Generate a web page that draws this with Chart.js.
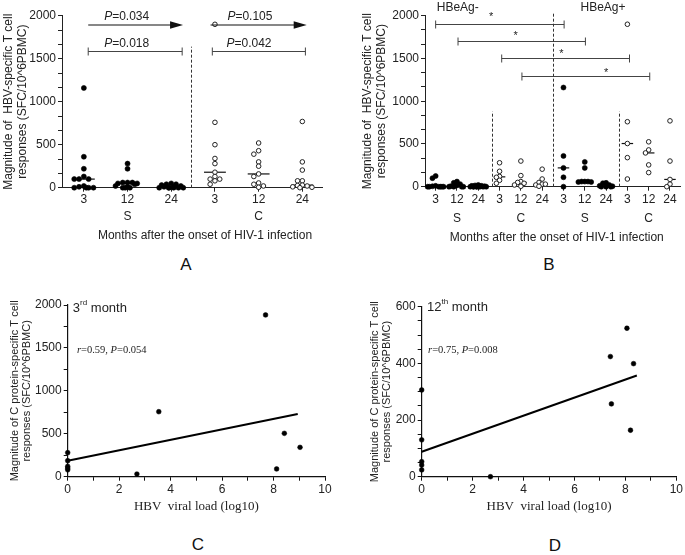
<!DOCTYPE html>
<html><head><meta charset="utf-8">
<script src="https://cdn.jsdelivr.net/npm/chart.js@4"></script>
<style>
body{margin:0;background:#fff;width:685px;height:555px;position:relative;overflow:hidden;font-family:"Liberation Sans",Arial,sans-serif}
canvas{position:absolute}
.lbl{position:absolute;font-size:17px;color:#111;transform:translate(-50%,-50%);line-height:1}
</style></head><body>
<canvas id="cA" width="340" height="250" style="left:0;top:0"></canvas>
<canvas id="cB" width="345" height="250" style="left:340px;top:0"></canvas>
<canvas id="cC" width="340" height="245" style="left:0;top:280px"></canvas>
<canvas id="cD" width="345" height="245" style="left:340px;top:280px"></canvas>
<div class="lbl" style="left:186px;top:264px">A</div>
<div class="lbl" style="left:549px;top:264px">B</div>
<div class="lbl" style="left:198px;top:544px">C</div>
<div class="lbl" style="left:555px;top:545px">D</div>
<script>
// ---------------- DATA ----------------
// Panel A
const A_CATS = ['3','12','24','3','12','24'];
const A_GROUPS = ['','S','','','C',''];
const A_S3  = [1160,360,220,130,100,100,100,20,10,0,0,0,0];
const A_S12 = [280,220,60,60,60,50,50,40,20,10,0,0,0];
const A_S24 = [50,40,40,30,20,10,10,0,0,0,0,0,0];
const A_C3  = [1900,760,500,340,280,180,130,100,100,80,40];
const A_C12 = [520,430,390,300,250,160,130,55,40,20,5];
const A_C24 = [770,300,205,80,80,30,25,20,10,5,0];
const A_YTICKS = [0,500,1000,1500,2000];
const A_PVALUES = ['0.034','0.018','0.105','0.042'];

// Panel B
const B_CATS = ['3','12','24','3','12','24','3','12','24','3','12','24'];
const B_GROUPS = ['','S','','','C','','','S','','','C',''];
const B_NEG_S3  = [125,100,10,5,0,0,0,0,0,0];
const B_NEG_S12 = [60,45,30,15,5,0,0,0,0];
const B_NEG_S24 = [20,15,10,10,5,5,0,0,0,0,0,0,0,0];
const B_NEG_C3  = [280,180,120,110,75,40];
const B_NEG_C12 = [300,130,60,50,40,20,5];
const B_NEG_C24 = [205,90,50,30,30,20,5];
const B_POS_S3  = [1160,360,220,110,0];
const B_POS_S12 = [290,220,60,60,60,55,55];
const B_POS_S24 = [45,40,20,10,5,0,0,0];
const B_POS_C3  = [1900,760,505,340,90];
const B_POS_C12 = [525,430,395,255,165];
const B_POS_C24 = [770,300,85,30,0];
const B_YTICKS = [0,500,1000,1500,2000];
const B_HEADERS = ['HBeAg-','HBeAg+'];

// Panel C (3rd month)
const C_X = [7.69,3.54,8.42,9.03,8.12,2.69,0,0,0,0,0];
const C_Y = [1884,757,505,342,90,31,280,186,120,100,80];
const C_FIT_X = [0,8.94];
const C_FIT_Y = [186,730];
const C_YTICKS = [0,500,1000,1500,2000];
const C_XTICKS = [0,2,4,6,8,10];

// Panel D (12th month)
const D_X = [8.06,7.41,8.32,7.45,8.2,2.7,0,0,0,0,0];
const D_Y = [524,424,399,257,164,0,306,130,53,41,24];
const D_FIT_X = [0,8.45];
const D_FIT_Y = [88,357];
const D_YTICKS = [0,200,400,600];
const D_XTICKS = [0,2,4,6,8,10];

// ---------------- HELPERS ----------------
const SANS = '"Liberation Sans", Arial, sans-serif';
const SERIF = '"Liberation Serif", "Times New Roman", serif';
const AX = '#222';

function median(a){const s=a.slice().sort((x,y)=>x-y);const n=s.length;return n%2?s[(n-1)/2]:(s[n/2-1]+s[n/2])/2;}
function swarm(values, center, dx, dy, maxOff){
  const placed=[]; const cands=[0];
  for(let i=1;i<14;i++){cands.push(-i*dx,i*dx);}
  const ok=cands.filter(o=>Math.abs(o)<=maxOff+1e-9);
  return values.slice().sort((a,b)=>b-a).map((v,n)=>{
    let off=null;
    for(const o of ok){
      if(!placed.some(p=>Math.abs(p.y-v)<dy && Math.abs(p.o-o)<dx*0.99)){off=o;break;}
    }
    if(off===null){off=ok[n%ok.length]+(n%2?0.5:-0.5)*dx;}
    placed.push({o:off,y:v});
    return {x:center+off,y:v};
  });
}
function minorTicks(major, sub){
  const t=[];
  for(let i=0;i<major.length-1;i++){
    for(let k=0;k<sub;k++){t.push({value:major[i]+(major[i+1]-major[i])*k/sub});}
  }
  t.push({value:major[major.length-1]});
  return t;
}
function isIn(v, arr){return arr.some(a=>Math.abs(a-v)<1e-6);}
function rich(ctx, parts, x, y, align){
  let w=0;
  parts.forEach(p=>{ctx.font=p.f;p.w=ctx.measureText(p.t).width;w+=p.w;});
  let cx = align==='center'? x-w/2 : x;
  ctx.textBaseline='middle'; ctx.textAlign='left';
  parts.forEach(p=>{ctx.font=p.f;ctx.fillText(p.t,cx,y+(p.dy||0));cx+=p.w;});
}
const baseOpts = {responsive:false, animation:false, devicePixelRatio:1, events:[],
  plugins:{legend:{display:false}, tooltip:{enabled:false}}};
const filledPt = {pointRadius:2.5, pointBackgroundColor:'#000', pointBorderColor:'#000', pointBorderWidth:0.6, showLine:false, clip:false};
const openPt = {pointRadius:2.3, pointBackgroundColor:'#fff', pointBorderColor:'#222', pointBorderWidth:1, showLine:false, clip:false};

function groupDatasets(series, filled, dx, dy, maxOff, mw){
  const ds=[];
  series.forEach((vals,i)=>{
    ds.push(Object.assign({data: swarm(vals,i,dx,dy,maxOff)}, filled[i]?filledPt:openPt));
  });
  series.forEach((vals,i)=>{
    const m=median(vals);
    ds.push({data:[{x:i-mw,y:m},{x:i+mw,y:m}], showLine:true, borderColor:'#111', borderWidth:1.2, pointRadius:0, clip:false});
  });
  return ds;
}

// ---------------- PANEL A ----------------
const A_SERIES=[A_S3,A_S12,A_S24,A_C3,A_C12,A_C24];
const A_FILLED=[true,true,true,false,false,false];
const annotA = {id:'annotA', afterDraw(chart){
  const {ctx, scales:{x,y}}=chart;
  ctx.save();
  const arrows=[{x0:0.1,x1:2.27,yv:1892,p:0,lx:0.98,ly:1985},{x0:2.9,x1:5.1,yv:1892,p:2,lx:3.8,ly:1985}];
  ctx.strokeStyle='#111'; ctx.fillStyle='#111'; ctx.lineWidth=1.2;
  arrows.forEach(a=>{
    const X0=x.getPixelForValue(a.x0), X1=x.getPixelForValue(a.x1), Y=y.getPixelForValue(a.yv);
    ctx.beginPath(); ctx.moveTo(X0,Y); ctx.lineTo(X1-10,Y); ctx.stroke();
    ctx.beginPath(); ctx.moveTo(X1-13,Y-3.8); ctx.lineTo(X1,Y); ctx.lineTo(X1-13,Y+3.8); ctx.closePath(); ctx.fill();
  });
  const brackets=[{x0:0.1,x1:2.25,yv:1590,p:1,lx:0.98,ly:1679},{x0:2.94,x1:5.07,yv:1590,p:3,lx:3.78,ly:1679}];
  ctx.strokeStyle='#444'; ctx.lineWidth=1;
  brackets.forEach(b=>{
    const X0=x.getPixelForValue(b.x0), X1=x.getPixelForValue(b.x1), Y=Math.round(y.getPixelForValue(b.yv))+0.5;
    ctx.beginPath(); ctx.moveTo(X0,Y); ctx.lineTo(X1,Y);
    ctx.moveTo(X0,Y-4); ctx.lineTo(X0,Y+4); ctx.moveTo(X1,Y-4); ctx.lineTo(X1,Y+4); ctx.stroke();
  });
  ctx.fillStyle='#222';
  arrows.concat(brackets).forEach(a=>{
    rich(ctx,[{t:'P',f:'italic 12px '+SANS},{t:'='+A_PVALUES[a.p],f:'12px '+SANS}], x.getPixelForValue(a.lx), y.getPixelForValue(a.ly), 'center');
  });
  ctx.strokeStyle='#333'; ctx.setLineDash([3,2]); ctx.lineWidth=1;
  const dx=Math.round(x.getPixelForValue(2.46))+0.5;
  ctx.beginPath(); ctx.moveTo(dx,y.getPixelForValue(0)); ctx.lineTo(dx,y.getPixelForValue(1640)); ctx.stroke();
  ctx.setLineDash([]);
  ctx.fillStyle='#222'; ctx.font='12px '+SANS; ctx.textAlign='center'; ctx.textBaseline='middle';
  ctx.fillText('Months after the onset of HIV-1 infection', 205, 236);
  ctx.restore();
}};
new Chart(document.getElementById('cA'), {
  type:'scatter',
  data:{datasets: groupDatasets(A_SERIES, A_FILLED, 0.11, 46, 0.25, 0.25)},
  options:Object.assign({}, baseOpts, {
    layout:{padding:{top:15.7,right:18,left:0,bottom:0}},
    scales:{
      x:{type:'linear', min:-0.5, max:5.45,
        afterBuildTicks:s=>{s.ticks=A_CATS.map((c,i)=>({value:i}));},
        afterFit:s=>{s.height=62.3;},
        ticks:{autoSkip:false, maxRotation:0, padding:0, color:AX, font:{family:SANS,size:12,lineHeight:1.4},
          callback:(v,i)=>A_GROUPS[i]?[A_CATS[i],A_GROUPS[i]]:A_CATS[i]},
        grid:{drawOnChartArea:false, drawTicks:true, tickLength:4, tickColor:AX},
        border:{display:true,color:AX,width:1}},
      y:{min:0, max:2000,
        afterBuildTicks:s=>{s.ticks=minorTicks(A_YTICKS,3);},
        afterFit:s=>{s.width=62;},
        ticks:{autoSkip:false, padding:2, color:AX, font:{family:SANS,size:12},
          callback:v=>isIn(v,A_YTICKS)?String(Math.round(v)):''},
        grid:{drawOnChartArea:false, drawTicks:true, tickLength:4, tickColor:AX},
        border:{display:true,color:AX,width:1},
        title:{display:true, text:['Magnitude of  HBV-specific T cell','responses (SFC/10^6PBMC)'], color:AX,
          font:{family:SANS,size:12,lineHeight:1.22}, padding:{top:1.1,bottom:0}}}
    }
  }),
  plugins:[annotA]
});

// ---------------- PANEL B ----------------
const B_SERIES=[B_NEG_S3,B_NEG_S12,B_NEG_S24,B_NEG_C3,B_NEG_C12,B_NEG_C24,B_POS_S3,B_POS_S12,B_POS_S24,B_POS_C3,B_POS_C12,B_POS_C24];
const B_FILLED=[true,true,true,false,false,false,true,true,true,false,false,false];
const annotB = {id:'annotB', afterDraw(chart){
  const {ctx, scales:{x,y}}=chart;
  ctx.save();
  const br=[{x0:0,x1:6.03,yv:1904,sx:2.6,sy:1991},{x0:1.05,x1:7.03,yv:1708,sx:3.75,sy:1766},
            {x0:3.1,x1:9.1,yv:1502,sx:5.9,sy:1550},{x0:4.05,x1:10.05,yv:1295,sx:8.0,sy:1336}];
  ctx.strokeStyle='#444'; ctx.lineWidth=1;
  br.forEach(b=>{
    const X0=x.getPixelForValue(b.x0), X1=x.getPixelForValue(b.x1), Y=Math.round(y.getPixelForValue(b.yv))+0.5;
    ctx.beginPath(); ctx.moveTo(X0,Y); ctx.lineTo(X1,Y);
    ctx.moveTo(X0,Y-4); ctx.lineTo(X0,Y+4); ctx.moveTo(X1,Y-4); ctx.lineTo(X1,Y+4); ctx.stroke();
  });
  ctx.fillStyle='#222'; ctx.font='11px '+SANS; ctx.textAlign='center'; ctx.textBaseline='middle';
  br.forEach(b=>{ctx.fillText('*', x.getPixelForValue(b.sx), y.getPixelForValue(b.sy));});
  ctx.strokeStyle='#333'; ctx.setLineDash([3,2]);
  [{xv:2.65,top:880},{xv:5.5,top:2040},{xv:8.6,top:880}].forEach(d=>{
    const X=Math.round(x.getPixelForValue(d.xv))+0.5;
    ctx.beginPath(); ctx.moveTo(X,y.getPixelForValue(0)); ctx.lineTo(X,y.getPixelForValue(d.top)); ctx.stroke();
  });
  ctx.setLineDash([]);
  ctx.font='12px '+SANS; ctx.textAlign='left';
  ctx.fillText(B_HEADERS[0], x.getPixelForValue(0.05), y.getPixelForValue(2091));
  ctx.fillText(B_HEADERS[1], x.getPixelForValue(6.8), y.getPixelForValue(2091));
  ctx.textAlign='center';
  ctx.fillText('Months after the onset of HIV-1 infection', 216.7, 237.7);
  ctx.restore();
}};
new Chart(document.getElementById('cB'), {
  type:'scatter',
  data:{datasets: groupDatasets(B_SERIES, B_FILLED, 0.15, 41, 0.42, 0.27)},
  options:Object.assign({}, baseOpts, {
    layout:{padding:{top:15.7,right:5,left:0,bottom:0}},
    scales:{
      x:{type:'linear', min:-0.5, max:11.47,
        afterBuildTicks:s=>{s.ticks=B_CATS.map((c,i)=>({value:i}));},
        afterFit:s=>{s.height=63.3;},
        ticks:{autoSkip:false, maxRotation:0, padding:-1, color:AX, font:{family:SANS,size:12,lineHeight:1.6},
          callback:(v,i)=>B_GROUPS[i]?[B_CATS[i],B_GROUPS[i]]:B_CATS[i]},
        grid:{drawOnChartArea:false, drawTicks:true, tickLength:4, tickColor:AX},
        border:{display:true,color:AX,width:1}},
      y:{min:0, max:2000,
        afterBuildTicks:s=>{s.ticks=minorTicks(B_YTICKS,3);},
        afterFit:s=>{s.width=85;},
        ticks:{autoSkip:false, padding:2, color:AX, font:{family:SANS,size:12},
          callback:v=>isIn(v,B_YTICKS)?String(Math.round(v)):''},
        grid:{drawOnChartArea:false, drawTicks:true, tickLength:4, tickColor:AX},
        border:{display:true,color:AX,width:1},
        title:{display:true, text:['Magnitude of  HBV-specific T cell','responses (SFC/10^6PBMC)'], color:AX,
          font:{family:SANS,size:12,lineHeight:1.167}, padding:{top:21,bottom:0}}}
    }
  }),
  plugins:[annotB]
});

// ---------------- PANELS C & D ----------------
function corrChart(id, xs, ys, fx, fy, ymax, ymajor, ysub, xmajor, yW, padTop, padRight, titlePad, label, stats){
  const pts = xs.map((v,i)=>({x:v,y:ys[i]}));
  const annot = {id:'ann'+id, afterDraw(chart){
    const {ctx, scales:{x,y}}=chart;
    ctx.save(); ctx.fillStyle='#222';
    rich(ctx,[{t:label[0],f:'13px '+SANS},{t:label[1],f:'8px '+SANS,dy:-5},{t:' month',f:'13px '+SANS}],
      x.getPixelForValue(label[2]), y.getPixelForValue(label[3]), 'left');
    rich(ctx,[{t:'r',f:'italic 10.5px '+SERIF},{t:'='+stats[0]+', ',f:'10.5px '+SERIF},{t:'P',f:'italic 10.5px '+SERIF},{t:'='+stats[1],f:'10.5px '+SERIF}],
      x.getPixelForValue(stats[2]), y.getPixelForValue(stats[3]), 'left');
    ctx.restore();
  }};
  new Chart(document.getElementById(id), {
    type:'scatter',
    data:{datasets:[
      {data:pts, pointRadius:2.4, pointBackgroundColor:'#000', pointBorderColor:'#000', pointBorderWidth:0.5, clip:false},
      {data:fx.map((v,i)=>({x:v,y:fy[i]})), showLine:true, borderColor:'#000', borderWidth:2, pointRadius:0, clip:false}
    ]},
    options:Object.assign({}, baseOpts, {
      layout:{padding:{top:padTop,right:padRight,left:0,bottom:0}},
      scales:{
        x:{type:'linear', min:0, max:10,
          afterBuildTicks:s=>{s.ticks=[];for(let k=0;k<=10;k++)s.ticks.push({value:k});},
          afterFit:s=>{s.height=48.3;},
          ticks:{autoSkip:false, maxRotation:0, padding:2, color:AX, font:{family:SANS,size:12},
            callback:v=>isIn(v,xmajor)?String(v):''},
          grid:{drawOnChartArea:false, drawTicks:true, tickLength:4, tickColor:'#111'},
          border:{display:true,color:'#111',width:1.2},
          title:{display:true, text:'HBV  viral load (log10)', color:AX, font:{family:SERIF,size:13,lineHeight:1.2}, padding:{top:0,bottom:10.5}}},
        y:{min:0, max:ymax,
          afterBuildTicks:s=>{s.ticks=minorTicks(ymajor,ysub);},
          afterFit:s=>{s.width=yW;},
          ticks:{autoSkip:false, padding:2, color:AX, font:{family:SANS,size:12},
            callback:v=>isIn(v,ymajor)?String(Math.round(v)):''},
          grid:{drawOnChartArea:false, drawTicks:true, tickLength:4, tickColor:'#111'},
          border:{display:true,color:'#111',width:1.2},
          title:{display:true, text:['Magnitude of C protein-specific T cell','responses (SFC/10^6PBMC)'], color:AX,
            font:{family:SANS,size:11,lineHeight:1.09}, padding:{top:titlePad,bottom:0}}}
      }
    }),
    plugins:[annot]
  });
}
corrChart('cC', C_X, C_Y, C_FIT_X, C_FIT_Y, 2000, C_YTICKS, 2, C_XTICKS, 67.7, 25, 15, 9, ['3','rd',0.2,1965], ['0.59','0.054',0.36,1476]);
corrChart('cD', D_X, D_Y, D_FIT_X, D_FIT_Y, 600, D_YTICKS, 4, D_XTICKS, 81.7, 26.7, 7, 29, ['12','th',0.21,599], ['0.75','0.008',0.25,445]);
</script>
</body></html>
